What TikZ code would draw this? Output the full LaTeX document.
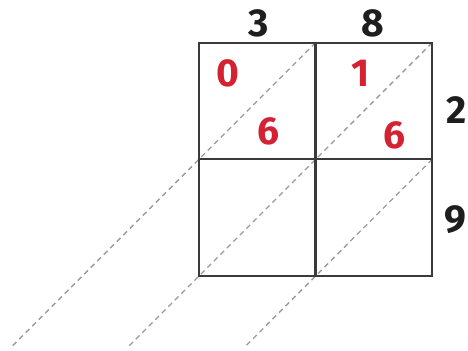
\documentclass[tikz,border=0pt]{standalone}
\usepackage{fontspec}
\usepackage{xcolor}
\usepackage{tikz}
\newfontfamily\lattfont{Fira Sans}
\definecolor{ink}{HTML}{1E1E1E}
\definecolor{cellred}{HTML}{D42232}
\definecolor{gridgray}{HTML}{3A3A3A}
\definecolor{diaggray}{HTML}{9A9A9A}
\tikzset{
  gridline/.style={draw=gridgray, line width=1.1pt},
  diag/.style={draw=diaggray, line width=0.65pt, dash pattern=on 2.6pt off 2pt},
  factor/.style={font=\lattfont\bfseries\fontsize{19.5}{19.5}\selectfont, text=ink, inner sep=0pt},
  partial/.style={factor, text=cellred}
}

\begin{document}
\begin{tikzpicture}[x=0.5pt, y=-0.5pt]
  \useasboundingbox (0,0) rectangle (468,351);
  % lattice corners
  \foreach \i in {0,1,2} \foreach \j in {0,1,2}
    \coordinate (c\i\j) at (199+116.6*\i, 42.7+116.6*\j);
  % free ends of the diagonals
  \coordinate (t0) at (11.7,346.7);
  \coordinate (t1) at (128.3,346.7);
  \coordinate (t2) at (245,346.7);
  \draw[diag] (c10) -- (t0);
  \draw[diag] (c20) -- (t1);
  \draw[diag] (c21) -- (t2);
  \draw[gridline] (c00) rectangle (c22);
  \draw[gridline] (c10) -- (c12);
  \draw[gridline] (c01) -- (c21);
  % factors
  \node[factor] (top3) at (258.3,23.3) {3};
  \node[factor] (top8) at (373,23.3) {8};
  \node[factor] (side2) at (456.5,110) {2};
  \node[factor] (side9) at (455.7,220) {9};
  % partial products
  \node[partial] (p0) at (227.7,73) {0};
  \node[partial] (p6a) at (268.3,131) {6};
  \node[partial] (p1) at (361,73.3) {1};
  \node[partial] (p6b) at (395,135) {6};
\end{tikzpicture}
\end{document}
